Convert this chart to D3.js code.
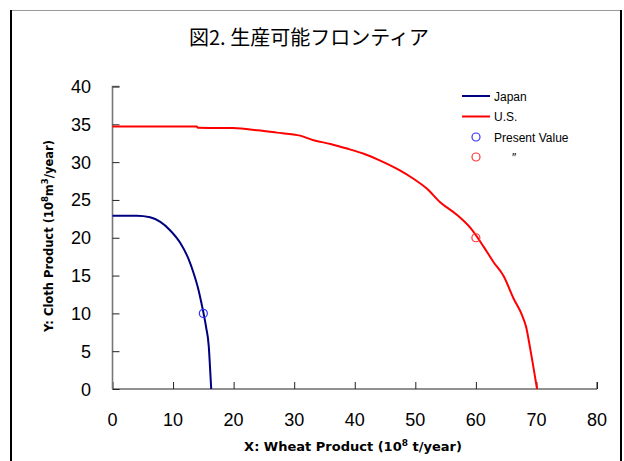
<!DOCTYPE html>
<html>
<head>
<meta charset="utf-8">
<script src="https://cdn.jsdelivr.net/npm/d3@7"></script>
<style>
  body { margin: 0; background: #fff; }
  svg { display: block; }
  text { font-family: "Liberation Sans", Arial, sans-serif; fill: #000; }
</style>
</head>
<body>
<svg id="chart" width="624" height="461"></svg>
<script>
// Production possibility frontiers (x: wheat, y: cloth)
const japanX = [0, 2, 4, 6.2, 7.9, 9.5, 11.2, 12.5, 13.4, 14.2, 14.7, 15.45, 15.9, 16.1, 16.3];
const japanY = [22.9, 22.9, 22.9, 22.7, 22.1, 21.0, 19.3, 17.3, 15.3, 13.1, 11.3, 8.2, 5.6, 2.9, 0];
const usX = [0, 13.9, 14.1, 19.9, 24, 27.1, 31.0, 33.2, 36, 38.7, 41.5, 44.2, 47, 49.7, 51.9, 54.1, 56.9, 59.1, 61.3, 62.9, 64.6, 66.2, 67.6, 68.3, 69.0, 70.1];
const usY = [34.7, 34.7, 34.55, 34.5, 34.2, 33.9, 33.5, 32.9, 32.4, 31.8, 31.1, 30.2, 29.1, 27.8, 26.5, 24.7, 23.0, 21.3, 18.8, 16.8, 14.9, 12.0, 9.8, 8.2, 5.2, 0];
// Present production points
const presentJapan = [15, 10];
const presentUS = [60, 20];
const xTicks = [0, 10, 20, 30, 40, 50, 60, 70, 80];
const yTicks = [0, 5, 10, 15, 20, 25, 30, 35, 40];
const legendLabels = ["Japan", "U.S.", "Present Value", "\u2033"];

const svg = d3.select("#chart");

// outer frame
svg.append("line").attr("x1", 10).attr("x2", 622).attr("y1", 10.5).attr("y2", 10.5)
  .attr("stroke", "#999").attr("stroke-width", 1);
svg.append("line").attr("x1", 11).attr("x2", 11).attr("y1", 10).attr("y2", 461)
  .attr("stroke", "#000").attr("stroke-width", 2);
svg.append("line").attr("x1", 621).attr("x2", 621).attr("y1", 10).attr("y2", 461)
  .attr("stroke", "#000").attr("stroke-width", 2);

const x = d3.scaleLinear().domain([0, 80]).range([112.5, 597]);
const y = d3.scaleLinear().domain([0, 40]).range([389, 86.5]);

// title
svg.append("text").attr("x", 309).attr("y", 45).attr("text-anchor", "middle")
  .style("font-family", "'Noto Sans CJK JP', sans-serif").style("font-size", "20px")
  .text("図2. 生産可能フロンティア");

// axes
const xAxis = svg.append("g").attr("transform", `translate(0,${y(0)})`)
  .call(d3.axisTop(x).tickValues(xTicks).tickSize(7).tickFormat(""));
xAxis.select(".domain").attr("stroke", "#222").attr("d", `M${x(0)},0H${x(80)}V-7`);
xAxis.selectAll(".tick line").attr("stroke", "#222");

const yAxis = svg.append("g").attr("transform", `translate(${x(0)},0)`)
  .call(d3.axisRight(y).tickValues(yTicks).tickSize(7).tickFormat(""));
yAxis.select(".domain").attr("stroke", "#777").attr("stroke-width", 1.6)
  .attr("d", `M7,${y(40)}H0V${y(0)}`);
yAxis.selectAll(".tick line").attr("stroke", "#222");

// tick labels
svg.append("g").selectAll("text").data(xTicks).join("text")
  .attr("x", d => x(d)).attr("y", 426).attr("text-anchor", "middle")
  .style("font-size", "18px").text(d => d);
svg.append("g").selectAll("text").data(yTicks).join("text")
  .attr("x", 91).attr("y", d => y(d) + 6.5).attr("text-anchor", "end")
  .style("font-size", "18px").text(d => d);

// axis titles
const xt = svg.append("text").attr("x", 353).attr("y", 451).attr("text-anchor", "middle")
  .style("font-size", "13px").style("font-weight", "bold").style("font-family", "'DejaVu Sans', sans-serif");
xt.append("tspan").text("X: Wheat Product  (10");
xt.append("tspan").attr("dy", -5).style("font-size", "9px").text("8");
xt.append("tspan").attr("dy", 5).text(" t/year)");

const yt = svg.append("text").attr("transform", "translate(53,236) rotate(-90)")
  .attr("text-anchor", "middle")
  .style("font-size", "11.5px").style("font-weight", "bold").style("font-family", "'DejaVu Sans', sans-serif");
yt.append("tspan").text("Y: Cloth Product (10");
yt.append("tspan").attr("dy", -5).style("font-size", "8.5px").text("8");
yt.append("tspan").attr("dy", 5).text("m");
yt.append("tspan").attr("dy", -5).style("font-size", "8.5px").text("3");
yt.append("tspan").attr("dy", 5).text("/year)");

// frontier lines
const line = d3.line().x(d => x(d[0])).y(d => y(d[1])).curve(d3.curveMonotoneX);
svg.append("path").datum(japanX.map((v, i) => [v, japanY[i]]))
  .attr("d", line).attr("fill", "none").attr("stroke", "#000080").attr("stroke-width", 2);
svg.append("path").datum(usX.map((v, i) => [v, usY[i]]))
  .attr("d", line).attr("fill", "none").attr("stroke", "#ff0000").attr("stroke-width", 2);

// present value markers
svg.append("circle").attr("cx", x(presentJapan[0])).attr("cy", y(presentJapan[1])).attr("r", 4)
  .attr("fill", "none").attr("stroke", "#3333ff").attr("stroke-width", 1.2);
svg.append("circle").attr("cx", x(presentUS[0])).attr("cy", y(presentUS[1])).attr("r", 4)
  .attr("fill", "none").attr("stroke", "#ff3333").attr("stroke-width", 1.2);

// legend
const lg = svg.append("g").style("font-size", "12px");
const rowsY = [96, 116.5, 137, 157];
lg.append("line").attr("x1", 462).attr("x2", 490).attr("y1", rowsY[0]).attr("y2", rowsY[0])
  .attr("stroke", "#000080").attr("stroke-width", 2);
lg.append("line").attr("x1", 462).attr("x2", 490).attr("y1", rowsY[1]).attr("y2", rowsY[1])
  .attr("stroke", "#ff0000").attr("stroke-width", 2);
lg.append("circle").attr("cx", 476).attr("cy", rowsY[2]).attr("r", 4)
  .attr("fill", "none").attr("stroke", "#3333ff").attr("stroke-width", 1.2);
lg.append("circle").attr("cx", 476).attr("cy", rowsY[3]).attr("r", 4)
  .attr("fill", "none").attr("stroke", "#ff3333").attr("stroke-width", 1.2);
lg.selectAll("text.lbl").data(legendLabels).join("text").attr("class", "lbl")
  .attr("x", (d, i) => i === 3 ? 512 : 494).attr("y", (d, i) => rowsY[i] + 4.5)
  .text(d => d);
</script>
</body>
</html>
